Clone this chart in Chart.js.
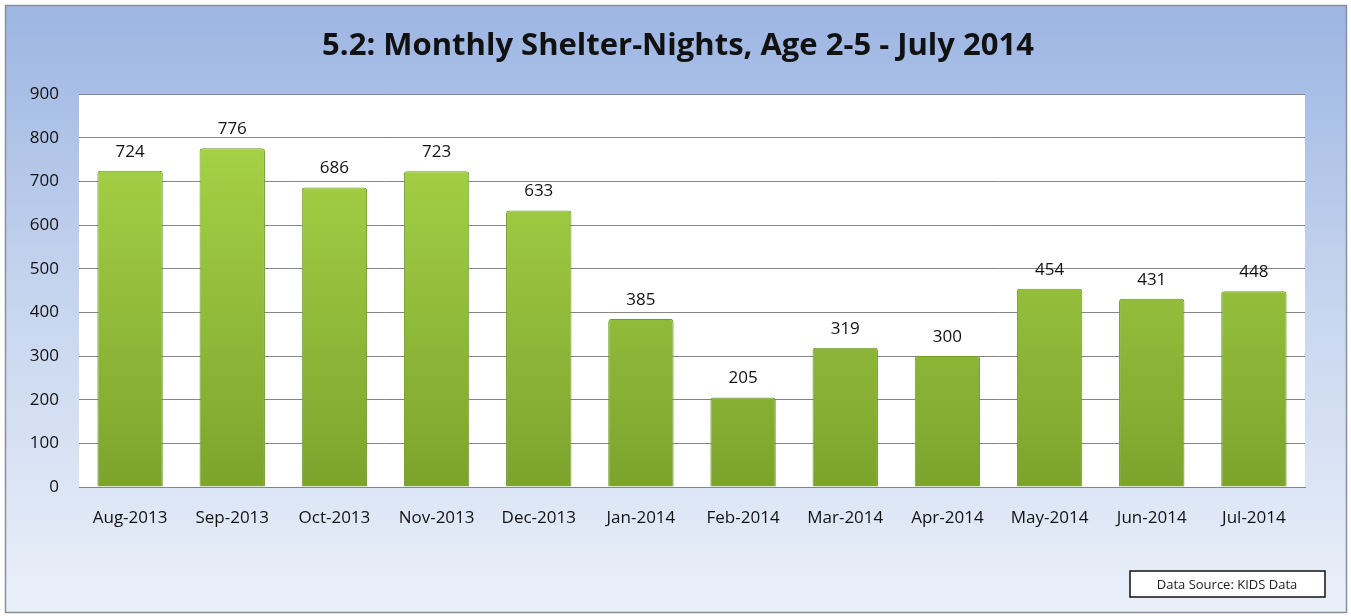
<!DOCTYPE html>
<html>
<head>
<meta charset="utf-8">
<script src="https://cdn.jsdelivr.net/npm/chart.js@4"></script>
<style>
  html, body { margin: 0; padding: 0; background: #fff; }
  #wrap { width: 1351px; height: 616px; position: relative; }
</style>
</head>
<body>
<div id="wrap"><canvas id="shelter-chart" width="1351" height="616"></canvas></div>
<script>
/*
 * Monthly Shelter-Nights chart
 */
let months = ['Aug-2013', 'Sep-2013', 'Oct-2013', 'Nov-2013', 'Dec-2013', 'Jan-2014',
              'Feb-2014', 'Mar-2014', 'Apr-2014', 'May-2014', 'Jun-2014', 'Jul-2014'];
let nights = [724, 776, 686, 723, 633, 385, 205, 319, 300, 454, 431, 448];
let titleText = '5.2: Monthly Shelter-Nights, Age 2-5 - July 2014';
let sourceText = 'Data Source: KIDS Data';

const FONT = "'Open Sans', sans-serif";

// outer frame, blue background and white plot area
let backdrop = {
    id: 'backdrop',
    beforeDraw(chart) {
        let ctx = chart.ctx;
        let a = chart.chartArea;
        ctx.save();
        ctx.fillStyle = '#ffffff';
        ctx.fillRect(0, 0, chart.width, chart.height);
        let g = ctx.createLinearGradient(0, 6, 0, 612);
        g.addColorStop(0, '#9cb5e2');
        g.addColorStop(0.45, '#c4d3ee');
        g.addColorStop(1, '#eaf0f9');
        ctx.fillStyle = g;
        ctx.fillRect(6, 6, chart.width - 11, chart.height - 10);
        ctx.strokeStyle = '#8a8f99';
        ctx.lineWidth = 1.5;
        ctx.strokeRect(5.5, 5.5, chart.width - 10, chart.height - 9);
        ctx.fillStyle = '#ffffff';
        ctx.fillRect(a.left, a.top, a.right - a.left, a.bottom - a.top);
        ctx.restore();
    },
    afterDraw(chart) {
        let ctx = chart.ctx;
        ctx.save();
        ctx.fillStyle = '#111111';
        ctx.font = "bold 31px " + FONT;
        ctx.textAlign = 'center';
        ctx.textBaseline = 'middle';
        ctx.fillText(titleText, 678, 46);

        // data source box
        ctx.fillStyle = '#ffffff';
        ctx.fillRect(1130, 571, 195, 26);
        ctx.strokeStyle = '#111111';
        ctx.lineWidth = 1.5;
        ctx.strokeRect(1130, 571, 195, 26);
        ctx.fillStyle = '#222222';
        ctx.font = "13px " + FONT;
        ctx.fillText(sourceText, 1227, 585);
        ctx.restore();
    }
};

// value labels above bars
let valueLabels = {
    id: 'valueLabels',
    afterDatasetsDraw(chart) {
        let ctx = chart.ctx;
        let meta = chart.getDatasetMeta(0);
        ctx.save();
        ctx.fillStyle = '#111111';
        ctx.font = "17px " + FONT;
        ctx.textAlign = 'center';
        ctx.textBaseline = 'middle';
        meta.data.forEach((bar, i) => {
            ctx.fillText(nights[i], bar.x, bar.y - 19);
        });
        ctx.restore();
    }
};

let shelterChart = document.getElementById('shelter-chart').getContext('2d');

let chart = new Chart(shelterChart, {
    type: 'bar',
    data: {
        labels: months,
        datasets: [{
            label: 'Shelter-Nights',
            data: nights,
            backgroundColor: function(context) {
                let area = context.chart.chartArea;
                if (!area) return '#8cba3c';
                let g = context.chart.ctx.createLinearGradient(0, area.top, 0, area.bottom);
                g.addColorStop(0, '#abd84a');
                g.addColorStop(1, '#7ca42d');
                return g;
            },
            borderColor: '#6e9628',
            borderWidth: 1,
            borderRadius: 3,
            borderSkipped: 'bottom',
            categoryPercentage: 1.0,
            barPercentage: 0.64,
        }]
    },
    options: {
        responsive: false,
        animation: false,
        layout: {
            padding: { top: 94, right: 46, bottom: 0, left: 0 }
        },
        plugins: {
            legend: { display: false },
            title: { display: false },
            tooltip: { enabled: false }
        },
        scales: {
            x: {
                grid: { display: false },
                border: { display: true, color: '#868686' },
                ticks: {
                    color: '#111111',
                    padding: 13,
                    font: { family: FONT, size: 17 },
                    maxRotation: 0
                },
                afterFit(axis) { axis.height = 129; }
            },
            y: {
                min: 0,
                max: 900,
                grid: { color: '#868686', drawTicks: false },
                border: { display: false },
                ticks: {
                    stepSize: 100,
                    color: '#111111',
                    padding: 20,
                    font: { family: FONT, size: 17 }
                },
                afterFit(axis) { axis.width = 79; }
            }
        }
    },
    plugins: [backdrop, valueLabels]
});
</script>
</body>
</html>
